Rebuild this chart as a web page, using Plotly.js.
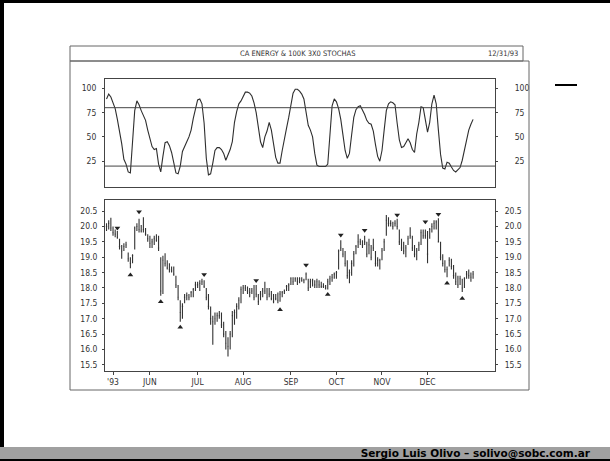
<!DOCTYPE html>
<html><head><meta charset="utf-8">
<script src="https://cdn.plot.ly/plotly-3.0.1.min.js"></script>
<style>
html,body{margin:0;padding:0;background:#fff;}
#wrap{position:relative;width:610px;height:461px;overflow:hidden;background:#fff;}
#chart{position:absolute;left:0;top:0;width:610px;height:461px;}
#bl{position:absolute;left:0;top:0;width:4px;height:461px;background:#000;}
#bt{position:absolute;left:0;top:0;width:610px;height:3px;background:#000;}
#foot{position:absolute;left:0;top:447px;width:610px;height:12px;background:#a0a0a0;border-bottom:2px solid #000;font:bold 10.5px 'DejaVu Sans',sans-serif;line-height:12px;text-align:right;color:#000;}
#foot span{padding-right:20px;}
</style></head><body>
<div id="wrap">
<div id="chart"></div>
<div id="bl"></div><div id="bt"></div>
<div id="foot"><span>Sergio Luis Olivo – solivo@sobc.com.ar</span></div>
</div>
<script>
const dates = [
'1993-05-03','1993-05-04','1993-05-05','1993-05-06','1993-05-07','1993-05-10','1993-05-11','1993-05-12','1993-05-13','1993-05-14',
'1993-05-17','1993-05-18','1993-05-19','1993-05-20','1993-05-21','1993-05-24','1993-05-25','1993-05-26','1993-05-27','1993-05-28',
'1993-06-01','1993-06-02','1993-06-03','1993-06-04','1993-06-07','1993-06-08','1993-06-09','1993-06-10','1993-06-11','1993-06-14',
'1993-06-15','1993-06-16','1993-06-17','1993-06-18','1993-06-21','1993-06-22','1993-06-23','1993-06-24','1993-06-25','1993-06-28',
'1993-06-29','1993-06-30','1993-07-01','1993-07-02','1993-07-06','1993-07-07','1993-07-08','1993-07-09','1993-07-12','1993-07-13',
'1993-07-14','1993-07-15','1993-07-16','1993-07-19','1993-07-20','1993-07-21','1993-07-22','1993-07-23','1993-07-26','1993-07-27',
'1993-07-28','1993-07-29','1993-07-30','1993-08-02','1993-08-03','1993-08-04','1993-08-05','1993-08-06','1993-08-09','1993-08-10',
'1993-08-11','1993-08-12','1993-08-13','1993-08-16','1993-08-17','1993-08-18','1993-08-19','1993-08-20','1993-08-23','1993-08-24',
'1993-08-25','1993-08-26','1993-08-27','1993-08-30','1993-08-31','1993-09-01','1993-09-02','1993-09-03','1993-09-07','1993-09-08',
'1993-09-09','1993-09-10','1993-09-13','1993-09-14','1993-09-15','1993-09-16','1993-09-17','1993-09-20','1993-09-21','1993-09-22',
'1993-09-23','1993-09-24','1993-09-27','1993-09-28','1993-09-29','1993-09-30','1993-10-01','1993-10-04','1993-10-05','1993-10-06',
'1993-10-07','1993-10-08','1993-10-11','1993-10-12','1993-10-13','1993-10-14','1993-10-15','1993-10-18','1993-10-19','1993-10-20',
'1993-10-21','1993-10-22','1993-10-25','1993-10-26','1993-10-27','1993-10-28','1993-10-29','1993-11-01','1993-11-02','1993-11-03',
'1993-11-04','1993-11-05','1993-11-08','1993-11-09','1993-11-10','1993-11-11','1993-11-12','1993-11-15','1993-11-16','1993-11-17',
'1993-11-18','1993-11-19','1993-11-22','1993-11-23','1993-11-24','1993-11-26','1993-11-29','1993-11-30','1993-12-01','1993-12-02',
'1993-12-03','1993-12-06','1993-12-07','1993-12-08','1993-12-09','1993-12-10','1993-12-13','1993-12-14','1993-12-15','1993-12-16',
'1993-12-17','1993-12-20','1993-12-21','1993-12-22','1993-12-23','1993-12-27','1993-12-28','1993-12-29','1993-12-30','1993-12-31'
];
const high = [
20.1,20.2,20.28,20.0,19.9,19.85,19.6,19.4,19.45,19.5,19.15,19.0,19.1,20.0,20.1,20.25,20.05,20.3,19.95,19.75,
19.7,19.6,19.7,19.75,19.7,19.0,19.05,19.13,18.9,18.8,18.7,18.7,18.4,18.1,17.6,17.5,17.8,17.85,17.8,17.9,18.0,18.2,
18.2,18.25,18.3,18.25,18.0,17.8,17.4,17.1,17.2,17.2,17.25,17.2,16.9,16.6,16.4,16.6,17.25,17.3,17.5,17.7,18.05,
18.1,18.1,18.05,18.0,18.0,18.1,18.1,17.8,17.9,18.0,18.2,18.0,18.0,17.9,17.8,17.8,17.85,17.9,17.9,17.95,18.1,18.15,
18.35,18.35,18.35,18.35,18.35,18.35,18.3,18.5,18.3,18.3,18.3,18.25,18.3,18.25,18.2,18.15,18.1,18.3,18.4,18.45,18.5,
18.55,19.25,19.55,19.3,19.2,18.9,18.6,18.9,19.2,19.4,19.75,19.6,19.55,19.7,19.5,19.6,19.4,19.6,19.2,19.0,18.95,
19.3,19.6,20.37,20.3,20.2,20.15,20.2,20.25,19.9,19.6,19.5,19.4,19.7,19.97,19.7,19.4,19.3,19.5,19.9,19.9,19.9,
19.85,19.95,20.1,20.2,20.2,20.27,19.5,19.1,18.9,18.7,19.0,18.95,18.75,18.5,18.4,18.4,18.3,18.35,18.55,18.6,18.5,18.55
];
const low = [
19.85,19.9,19.85,19.7,19.65,19.6,19.25,18.95,19.2,19.3,18.85,18.64,18.8,19.25,19.85,19.8,19.8,19.8,19.7,19.5,
19.3,19.3,19.4,19.5,19.2,17.75,17.8,18.7,18.6,18.5,18.5,18.4,18.0,17.6,16.9,17.0,17.5,17.6,17.6,17.7,17.7,17.9,
18.0,17.9,18.1,18.0,17.6,17.3,16.8,16.15,16.8,16.9,17.0,16.7,16.4,16.0,15.77,16.0,16.4,16.8,17.0,17.3,17.5,
17.8,17.9,17.8,17.7,17.8,17.6,17.7,17.45,17.6,17.7,17.8,17.6,17.7,17.6,17.5,17.6,17.5,17.55,17.7,17.8,17.9,17.9,
18.1,18.1,18.2,18.1,18.15,18.2,18.15,18.25,17.9,18.0,18.05,18.0,18.0,18.0,18.0,18.0,17.95,17.95,18.1,18.2,18.3,
18.3,18.6,19.2,19.0,18.7,18.3,18.15,18.4,18.7,19.1,19.3,19.4,19.3,19.4,19.0,19.1,18.9,19.2,18.7,18.7,18.6,
18.9,19.2,19.7,20.0,20.0,19.9,20.0,19.9,19.4,19.2,19.1,19.0,19.4,19.6,19.2,19.0,18.9,19.2,19.4,19.6,19.6,
18.8,19.6,19.8,19.9,19.9,19.5,18.9,18.7,18.5,18.35,18.7,18.6,18.3,18.1,18.0,18.1,17.87,18.0,18.3,18.3,18.2,18.3
];
const close = [
20.0,20.1,19.95,19.8,19.75,19.65,19.35,19.2,19.35,19.4,18.95,18.8,19.05,19.95,20.0,19.9,19.85,19.9,19.75,19.6,
19.45,19.5,19.6,19.55,19.3,17.9,18.9,18.8,18.65,18.6,18.55,18.45,18.1,17.7,17.2,17.4,17.7,17.75,17.7,17.85,17.95,18.1,
18.1,18.15,18.2,18.05,17.7,17.4,17.0,16.9,17.0,17.1,17.1,16.8,16.5,16.2,16.1,16.5,17.1,17.2,17.4,17.6,17.95,
18.0,18.0,17.9,17.85,17.9,17.7,17.8,17.55,17.8,17.9,17.9,17.7,17.8,17.65,17.55,17.65,17.6,17.8,17.85,17.9,18.05,18.1,
18.3,18.2,18.3,18.2,18.3,18.25,18.25,18.45,18.0,18.2,18.25,18.1,18.2,18.1,18.05,18.05,18.0,18.2,18.3,18.35,18.45,
18.5,19.2,19.3,19.1,18.8,18.4,18.5,18.8,19.1,19.35,19.5,19.5,19.4,19.5,19.1,19.4,19.0,19.3,18.8,18.9,18.9,
19.2,19.5,20.2,20.1,20.1,20.0,20.1,20.0,19.5,19.3,19.2,19.3,19.6,19.7,19.3,19.1,19.2,19.4,19.8,19.7,19.7,
19.1,19.9,20.0,20.1,20.15,19.5,19.0,18.8,18.6,18.6,18.9,18.7,18.4,18.2,18.1,18.3,18.0,18.3,18.45,18.4,18.35,18.45
];
const stoch = [
89,94,91,85,79,68,57,43,27,22,
14,13,45,77,87,83,77,72,67,57,
47,40,37,38,22,14,30,44,45,41,
34,22,13,12,20,35,41,45,50,57,
69,80,88,89,84,64,28,11,12,23,
36,39,39,37,33,26,31,37,45,65,
76,84,87,92,96,96,95,92,85,75,
58,45,39,50,56,65,57,44,29,23,
23,36,46,59,70,85,95,99,99,97,
94,89,75,62,57,50,33,21,19.5,19.5,
19.5,19.5,22,58,82,89,86,79,68,52,
36,28,33,52,70,78,81,82,78,73,
67,64,63,56,42,30,25,36,57,77,
84,86,85,83,64,47,39,40,44,48,
44,37,34,53,65,81,80,68,55,65,
84,93,84,57,32,18,17,24,23,19,
15.5,14,16,18.5,26,37,47,57,63,68
];
const stochBands = [20, 80];
const stochTicks = [25, 50, 75, 100];
const priceTicks = [15.5, 16.0, 16.5, 17.0, 17.5, 18.0, 18.5, 19.0, 19.5, 20.0, 20.5];
const monthTickDates = ['1993-05-06','1993-06-01','1993-07-01','1993-08-02','1993-09-01','1993-10-01','1993-11-01','1993-12-01'];
const monthTickLabels = ["'93",'JUN','JUL','AUG','SEP','OCT','NOV','DEC'];
const peakDates = ['1993-05-10','1993-05-24','1993-07-07','1993-08-10','1993-09-13','1993-10-05','1993-10-20','1993-11-10','1993-11-30','1993-12-08'];
const peakMarks = [19.95, 20.48, 18.44, 18.24, 18.75, 19.72, 19.88, 20.37, 20.15, 20.4];
const troughDates = ['1993-05-18','1993-06-08','1993-06-21','1993-08-25','1993-09-27','1993-12-14','1993-12-23'];
const troughMarks = [18.42, 17.55, 16.72, 17.29, 17.79, 18.15, 17.66];
const chartTitle = 'CA ENERGY & 100K 3X0 STOCHAS';
const chartDate = '12/31/93';

const W = 610, H = 461;
const px = v => v / W, py = v => 1 - v / H;
const ink = '#2e2e2e', frame = '#666';
const tickFont = {family: "'DejaVu Sans Condensed','DejaVu Sans',sans-serif", size: 8.5, color: '#333'};
const xdom = [px(105), px(495)];
const xRange = [-0.7, 179.1];
const stochRange = [-1.5, 109.5];
const priceRange = [15.3, 20.86];

const traces = [
  // stochastic line on the right-hand axis (same range as the left one)
  {type:'scatter', mode:'lines', x:dates, y:stoch, xaxis:'x', yaxis:'y3',
   line:{color:ink, width:1.1}, hoverinfo:'skip'},
  {type:'ohlc', x:dates, open:close, high:high, low:low, close:close, xaxis:'x2', yaxis:'y2',
   increasing:{line:{color:'#333', width:1.1}}, decreasing:{line:{color:'#333', width:1.1}},
   tickwidth:0.3, hoverinfo:'skip'},
  {type:'scatter', mode:'markers', x:peakDates, y:peakMarks, xaxis:'x2', yaxis:'y4',
   marker:{symbol:'triangle-down', size:5, color:'#222'}, hoverinfo:'skip'},
  {type:'scatter', mode:'markers', x:troughDates, y:troughMarks, xaxis:'x2', yaxis:'y4',
   marker:{symbol:'triangle-up', size:5, color:'#222'}, hoverinfo:'skip'}
];

const yBase = {showgrid:false, zeroline:false, showline:true, linecolor:'#444', linewidth:1,
  ticks:'outside', ticklen:2, tickcolor:'#444', tickfont:tickFont, fixedrange:true};

const layout = {
  width: W, height: H, margin:{l:0,r:0,t:0,b:0}, showlegend:false,
  paper_bgcolor:'rgba(0,0,0,0)', plot_bgcolor:'#fff',
  xaxis:{domain:xdom, anchor:'y', type:'category', range:xRange, showticklabels:false,
    showgrid:false, zeroline:false, showline:true, mirror:true, linecolor:'#444', ticks:''},
  xaxis2:{domain:xdom, anchor:'y2', type:'category', range:xRange, matches:'x',
    rangeslider:{visible:false}, tickmode:'array', tickvals:monthTickDates, ticktext:monthTickLabels,
    ticks:'outside', ticklen:3, tickcolor:'#444', tickfont:tickFont,
    showgrid:false, zeroline:false, showline:true, mirror:true, linecolor:'#444'},
  yaxis:Object.assign({}, yBase, {domain:[py(187), py(79)], anchor:'x', range:stochRange,
    tickmode:'array', tickvals:stochTicks, side:'left', mirror:true, ticklabelstandoff:4}),
  yaxis3:Object.assign({}, yBase, {overlaying:'y', anchor:'x', side:'right', range:stochRange,
    tickmode:'array', tickvals:stochTicks, ticklabelstandoff:15}),
  yaxis2:Object.assign({}, yBase, {domain:[py(371), py(200)], anchor:'x2', range:priceRange,
    tickmode:'array', tickvals:priceTicks, tickformat:'.1f', side:'left', mirror:true, ticklabelstandoff:3}),
  yaxis4:Object.assign({}, yBase, {overlaying:'y2', anchor:'x2', side:'right', range:priceRange,
    tickmode:'array', tickvals:priceTicks, tickformat:'.1f', ticklabelstandoff:5}),
  shapes: [
    ...stochBands.map(v => ({type:'line', xref:'x domain', yref:'y', x0:0, x1:1, y0:v, y1:v,
      line:{color:'#444', width:1}})),
    {type:'rect', xref:'paper', yref:'paper', x0:px(70), x1:px(529), y0:py(390), y1:py(61),
      line:{color:frame, width:1}},
    {type:'rect', xref:'paper', yref:'paper', x0:px(70), x1:px(523), y0:py(61), y1:py(46),
      line:{color:frame, width:1}},
    {type:'line', xref:'paper', yref:'paper', x0:px(555), x1:px(577), y0:py(85), y1:py(85),
      line:{color:'#000', width:2}}
  ],
  annotations: [
    {xref:'paper', yref:'paper', x:px(297), y:py(53.5), text:chartTitle, showarrow:false,
      xanchor:'center', yanchor:'middle', font:{family:"'DejaVu Sans Condensed','DejaVu Sans',sans-serif", size:7.5, color:'#333'}},
    {xref:'paper', yref:'paper', x:px(520), y:py(53.5), text:chartDate, showarrow:false,
      xanchor:'right', yanchor:'middle', font:{family:"'DejaVu Sans Condensed','DejaVu Sans',sans-serif", size:7.5, color:'#333'}}
  ]
};

Plotly.newPlot('chart', traces, layout, {staticPlot:true, displayModeBar:false});
</script>
</body></html>
